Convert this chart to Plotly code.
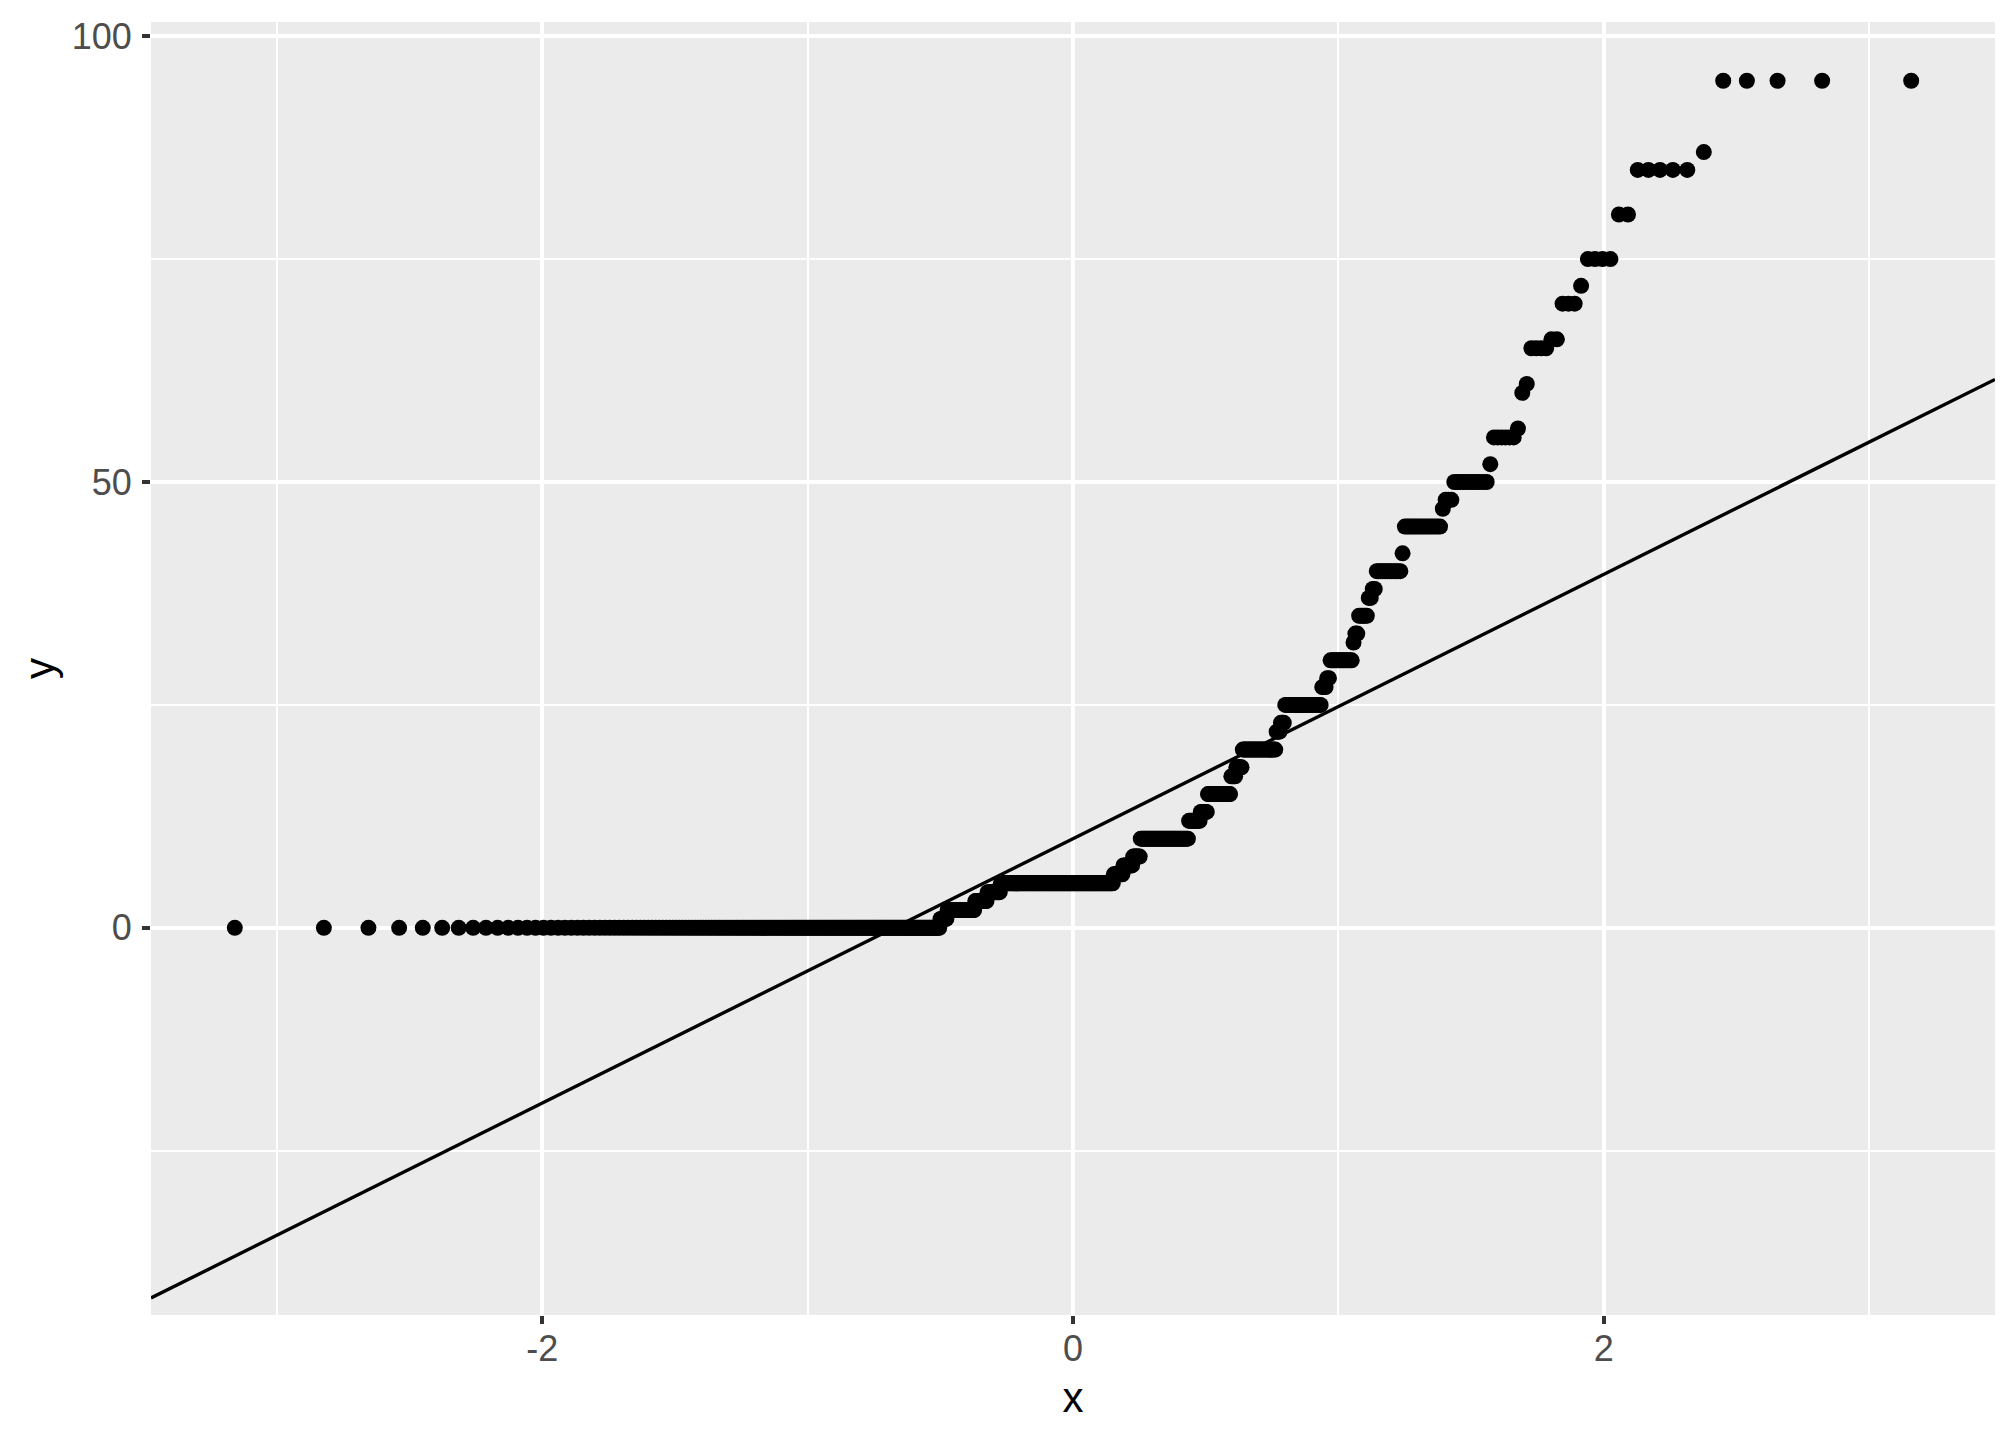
from statistics import NormalDist

import numpy as np
import plotly.graph_objects as go

# sample values (percent) and how many times each occurs
values = [0, 1, 2, 3, 4, 5, 6, 7, 8, 10, 12, 13, 15, 17, 18, 20, 22, 23, 25, 27, 28,
          30, 32, 33, 35, 37, 38, 40, 42, 45, 47, 48, 50, 52, 55, 56, 60, 61, 65, 66,
          70, 72, 75, 80, 85, 87, 95]
counts = [194, 6, 24, 11, 12, 106, 9, 9, 7, 43, 10, 6, 19, 4, 5, 25, 3, 3, 24, 3, 2,
          13, 1, 2, 5, 2, 2, 12, 1, 15, 1, 3, 11, 1, 6, 1, 1, 1, 4, 2,
          3, 1, 4, 2, 5, 1, 5]

x_ticks = [-2, 0, 2]
x_tick_labels = ["-2", "0", "2"]
y_ticks = [0, 50, 100]
y_tick_labels = ["0", "50", "100"]

# stat_qq: sorted sample against normal quantiles of ppoints(n)
sample = np.repeat(values, counts).astype(float)
n = len(sample)
nd = NormalDist()
theo = np.array([nd.inv_cdf((i + 0.5) / n) for i in range(n)])

# stat_qq_line through the quartiles
yq = np.quantile(sample, [0.25, 0.75])
xq = np.array([nd.inv_cdf(0.25), nd.inv_cdf(0.75)])
slope = (yq[1] - yq[0]) / (xq[1] - xq[0])
intercept = yq[0] - slope * xq[0]

xr = theo.max() - theo.min()
x_range = [theo.min() - 0.05 * xr, theo.max() + 0.05 * xr]
line_lo = intercept + slope * theo.min()
y_lo, y_hi = min(sample.min(), line_lo), sample.max()
yr = y_hi - y_lo
y_range = [y_lo - 0.05 * yr, y_hi + 0.05 * yr]

fig = go.Figure()
fig.add_trace(go.Scatter(x=theo, y=sample, mode="markers",
                         marker=dict(color="black", size=16, line=dict(width=0)),
                         showlegend=False, hoverinfo="skip"))
fig.add_trace(go.Scatter(x=x_range, y=[intercept + slope * v for v in x_range], mode="lines",
                         line=dict(color="black", width=3.4), showlegend=False, hoverinfo="skip"))

axis_common = dict(
    showgrid=True, gridcolor="white", gridwidth=4, zeroline=False, showline=False,
    ticks="outside", ticklen=8, tickwidth=4, tickcolor="#333333", automargin=False,
    tickfont=dict(family="Liberation Sans, Arial", size=36, color="#4D4D4D"),
)

# the page body adds an 8px offset, so the figure is 16px smaller than the window
fig.update_layout(
    width=2000, height=1424,
    paper_bgcolor="white", plot_bgcolor="#EBEBEB",
    margin=dict(l=143, r=13, t=14, b=117),
    font=dict(family="Liberation Sans, Arial", color="black"),
    xaxis=dict(axis_common, range=x_range, tickvals=x_ticks, ticktext=x_tick_labels,
               ticklabelstandoff=-6,
               minor=dict(showgrid=True, gridcolor="white", gridwidth=2, tickvals=[-3, -1, 1, 3]),
               title=dict(text="x", font=dict(size=42), standoff=14)),
    yaxis=dict(axis_common, range=y_range, tickvals=y_ticks, ticktext=y_tick_labels,
               ticklabelstandoff=3,
               minor=dict(showgrid=True, gridcolor="white", gridwidth=2, tickvals=[-25, 25, 75]),
               title=dict(text="y", font=dict(size=42), standoff=4)),
)

fig.write_html("out.html")
